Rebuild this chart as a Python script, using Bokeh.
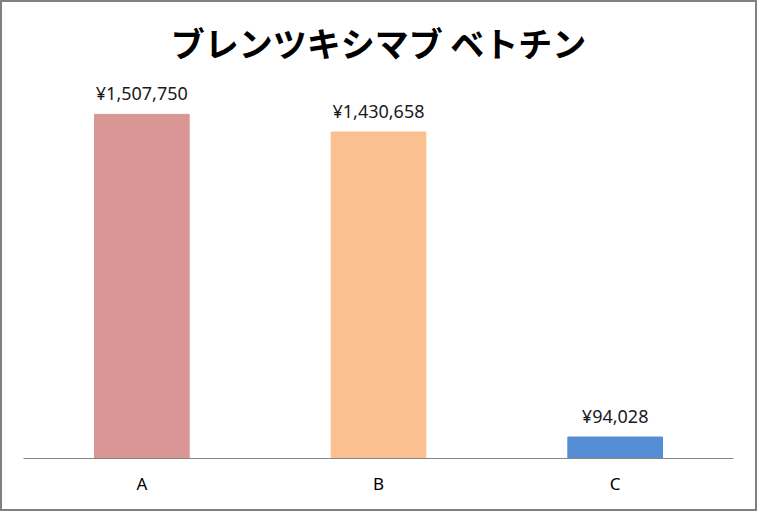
from bokeh.plotting import figure
from bokeh.models import ColumnDataSource, FactorRange, Range1d, LabelSet
from bokeh.core.properties import value
from bokeh.embed import file_html
from bokeh.resources import INLINE

categories = ["A", "B", "C"]
values = [1507750, 1430658, 94028]
labels = ["¥1,507,750", "¥1,430,658", "¥94,028"]
colors = ["#D99694", "#FAC090", "#558ED5"]

source = ColumnDataSource(dict(cat=categories, val=values, lab=labels, col=colors))

p = figure(x_range=FactorRange(*categories, range_padding=0), y_range=Range1d(0, 1700000),
           width=757, height=511, output_backend="svg", toolbar_location=None,
           min_border_left=21, min_border_right=26, min_border_top=68, min_border_bottom=55)
p.styles = {"border": "2px solid #808080", "box-sizing": "border-box"}

p.vbar(x="cat", top="val", width=0.4, color="col", source=source)
p.add_layout(LabelSet(x="cat", y="val", text="lab", source=source, text_align="center",
                      text_baseline="bottom", y_offset=9, text_font=value("Noto Sans"),
                      text_font_size=value("18px"), text_color="#1a1a1a"))

p.title.text = "ブレンツキシマブ ベトチン"
p.title.align = "center"
p.title.text_font = "Noto Sans CJK JP"
p.title.text_font_style = "bold"
p.title.text_font_size = "34px"
p.title.text_color = "#000000"
p.title.standoff = 8

p.yaxis.visible = False
p.xgrid.visible = False
p.ygrid.visible = False
p.outline_line_color = None
p.xaxis.axis_line_color = "#868686"
p.xaxis.major_tick_line_color = None
p.xaxis.minor_tick_line_color = None
p.xaxis.major_label_text_font = "Noto Sans"
p.xaxis.major_label_text_font_size = "17px"
p.xaxis.major_label_text_color = "#000000"
p.xaxis.major_label_standoff = 7

open("out.html", "w").write(file_html(p, INLINE))
